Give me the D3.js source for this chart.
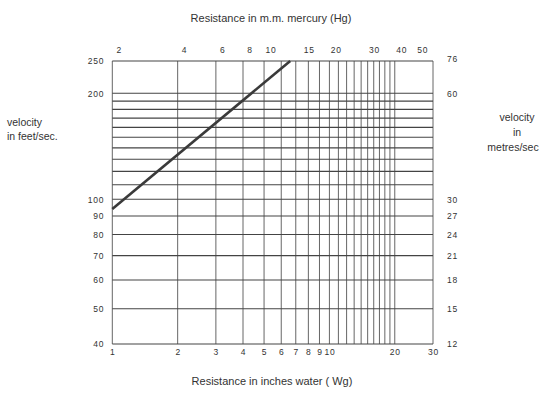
<!DOCTYPE html>
<html>
<head>
<meta charset="utf-8">
<script src="https://cdn.jsdelivr.net/npm/d3@7"></script>
<style>
  html, body { margin: 0; padding: 0; background: #fff; }
  svg { display: block; }
  text { font-family: "Liberation Sans", Arial, sans-serif; fill: #333; }
</style>
</head>
<body>
<svg id="chart" width="551" height="395"></svg>
<script>
// ---- data ----
const waterTicks = [1, 2, 3, 4, 5, 6, 7, 8, 9, 10, 20, 30];           // bottom labels (inches water)
const waterGrid  = [1, 2, 3, 4, 5, 6, 7, 8, 9, 10, 11, 12, 13, 14, 15, 16, 17, 18, 19, 20, 30];
const mercuryTicks = [2, 4, 6, 8, 10, 15, 20, 30, 40, 50];            // top labels (mm Hg)
const velTicks = [40, 50, 60, 70, 80, 90, 100, 200, 250];              // left labels (ft/s)
const velGrid  = [40, 50, 60, 70, 80, 90, 100, 110, 120, 130, 140, 150, 160, 170, 180, 190, 200, 250];
const mpsTicks = [12, 15, 18, 21, 24, 27, 30, 60, 76];                 // right labels (m/s)
const curveWater = [1, 6.6];        // inches water
const curveVel   = [94, 250];       // ft/s

const IN_TO_MMHG = 1.868;
const FT_TO_M = 0.3048;

// ---- layout ----
const L = 112.3, R = 433, T = 61, B = 344;
const svg = d3.select("#chart");

const x = d3.scaleLog().domain([1, 30]).range([L, R]);
const xTop = d3.scaleLog().domain([1 * IN_TO_MMHG, 30 * IN_TO_MMHG]).range([L, R]);
const yDom = [40, 100, 200, 250];
const yRng = [B, 199.3, 93.3, T];
const y = d3.scaleLog().domain(yDom).range(yRng);
const yRight = d3.scaleLog().domain(yDom.map(v => v * FT_TO_M)).range(yRng);

// grid
const g = svg.append("g");
g.selectAll("line.v").data(waterGrid).join("line")
  .attr("x1", d => x(d)).attr("x2", d => x(d))
  .attr("y1", T).attr("y2", B)
  .attr("stroke", "#555").attr("stroke-width", 0.9);
g.selectAll("line.h").data(velGrid).join("line")
  .attr("x1", L).attr("x2", R)
  .attr("y1", d => y(d)).attr("y2", d => y(d))
  .attr("stroke", "#444").attr("stroke-width", 1.1);

// curve
const pts = curveWater.map((w, i) => [w, curveVel[i]]);
svg.append("path")
  .attr("d", d3.line().x(d => x(d[0])).y(d => y(d[1]))(pts))
  .attr("fill", "none").attr("stroke", "#3a3a3a").attr("stroke-width", 2.6);

// axes
function styleAxis(sel) {
  sel.select(".domain").remove();
  sel.selectAll(".tick line").remove();
  sel.selectAll("text").attr("font-size", 8.5).attr("letter-spacing", 0.8)
    .attr("fill", "#3a3a3a").attr("font-family", "'Liberation Sans', Arial, sans-serif");
}
svg.append("g").attr("transform", `translate(0,${B})`)
  .call(d3.axisBottom(x).tickValues(waterTicks).tickFormat(d3.format("d")).tickSize(0).tickPadding(5))
  .call(styleAxis);
svg.append("g").attr("transform", `translate(0,${T})`)
  .call(d3.axisTop(xTop).tickValues(mercuryTicks).tickFormat(d3.format("d")).tickSize(0).tickPadding(8))
  .call(styleAxis);
svg.append("g").attr("transform", `translate(${L},0)`)
  .call(d3.axisLeft(y).tickValues(velTicks).tickFormat(d3.format("d")).tickSize(0).tickPadding(8))
  .call(styleAxis);
const ra = svg.append("g").attr("transform", `translate(${R},0)`)
  .call(d3.axisRight(yRight).tickValues(mpsTicks).tickFormat(d3.format("d")).tickSize(0).tickPadding(14))
  .call(styleAxis);
ra.selectAll("text").attr("dy", "0.05em");

// titles
svg.append("text").attr("x", 271).attr("y", 22).attr("text-anchor", "middle")
  .attr("font-size", 11).text("Resistance in m.m. mercury (Hg)");
svg.append("text").attr("x", 272).attr("y", 385).attr("text-anchor", "middle")
  .attr("font-size", 11).text("Resistance in inches water ( Wg)");

const lt = svg.append("text").attr("font-size", 10.5);
lt.append("tspan").attr("x", 7).attr("y", 126).text("velocity");
lt.append("tspan").attr("x", 7).attr("y", 140).text("in feet/sec.");

const rt = svg.append("text").attr("font-size", 10.5).attr("text-anchor", "middle");
rt.append("tspan").attr("x", 517).attr("y", 121).text("velocity");
rt.append("tspan").attr("x", 517).attr("y", 136).text("in");
rt.append("tspan").attr("x", 513).attr("y", 151).text("metres/sec");
</script>
</body>
</html>
